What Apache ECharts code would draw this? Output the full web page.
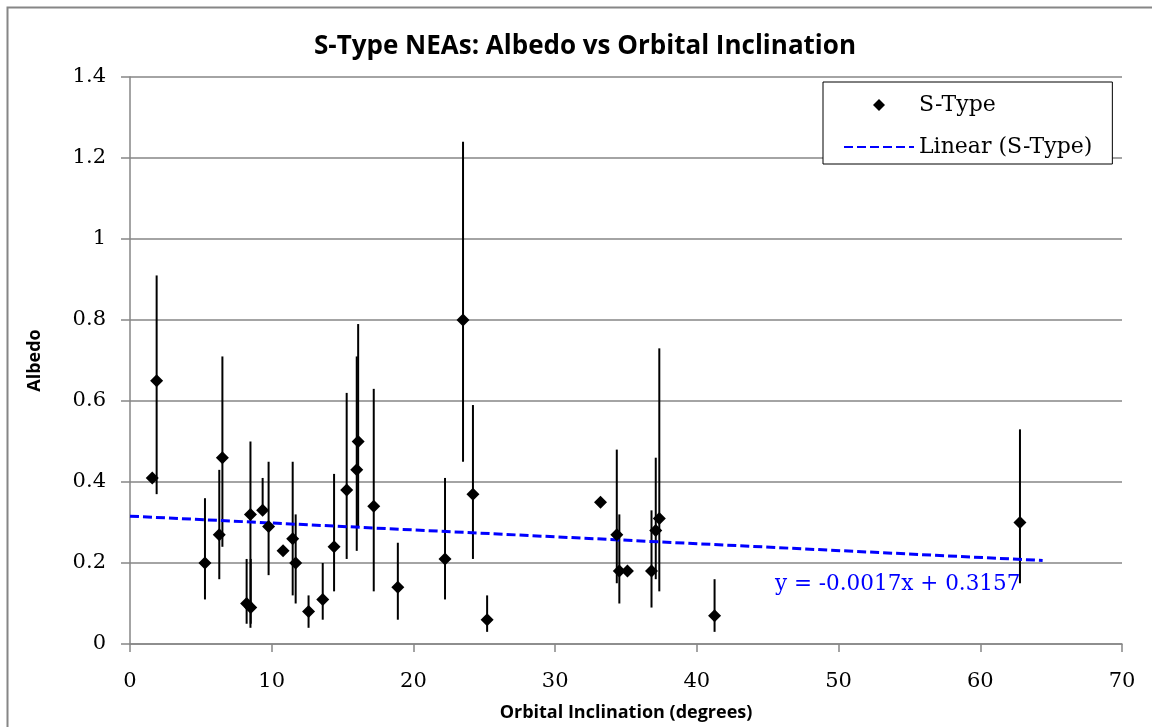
<!DOCTYPE html>
<html>
<head>
<meta charset="utf-8">
<script src="https://cdn.jsdelivr.net/npm/echarts@6/dist/echarts.min.js"></script>
<style>html,body{margin:0;padding:0;background:#fff;}#chart{width:1152px;height:727px;}</style>
</head>
<body>
<div id="chart"></div>
<script>
// Orbital inclination (degrees)
const inclination = [1.57, 1.88, 5.29, 6.30, 6.52, 8.23, 8.52, 8.50, 9.36, 9.78, 10.8, 11.48, 11.69, 12.6, 13.6, 14.4, 15.29, 16.0, 16.1, 17.2, 18.9, 22.23, 23.5, 24.2, 25.2, 33.2, 34.35, 34.53, 35.1, 36.8, 37.1, 37.35, 41.25, 62.8];
// Albedo
const albedo = [0.41, 0.65, 0.20, 0.27, 0.46, 0.10, 0.09, 0.32, 0.33, 0.29, 0.23, 0.26, 0.20, 0.08, 0.11, 0.24, 0.38, 0.43, 0.50, 0.34, 0.14, 0.21, 0.80, 0.37, 0.06, 0.35, 0.27, 0.18, 0.18, 0.18, 0.28, 0.31, 0.07, 0.30];
// Error bar lower / upper ends (null = no bar)
const albedoLow = [null, 0.37, 0.11, 0.16, 0.24, 0.05, 0.05, 0.04, 0.32, 0.17, null, 0.12, 0.10, 0.04, 0.06, 0.13, 0.21, 0.23, 0.29, 0.13, 0.06, 0.11, 0.45, 0.21, 0.03, null, 0.15, 0.10, null, 0.09, 0.16, 0.13, 0.03, 0.15];
const albedoHigh = [null, 0.91, 0.36, 0.43, 0.71, 0.21, 0.21, 0.50, 0.41, 0.45, null, 0.45, 0.32, 0.12, 0.20, 0.42, 0.62, 0.71, 0.79, 0.63, 0.25, 0.41, 1.24, 0.59, 0.12, null, 0.48, 0.32, null, 0.33, 0.46, 0.73, 0.16, 0.53];
// Linear trendline endpoints
const trendX = [0, 64.4];
const trendY = [0.3157, 0.2062];
const trendLabel = 'y = -0.0017x + 0.3157';
const xTicks = [0, 10, 20, 30, 40, 50, 60, 70];
const yTicks = [0, 0.2, 0.4, 0.6, 0.8, 1, 1.2, 1.4];

const points = inclination.map((x, i) => [x, albedo[i]]);
const bars = inclination.map((x, i) => [x, albedoLow[i], albedoHigh[i]]);
const trend = trendX.map((x, i) => [x, trendY[i]]);

const serif = 'DejaVu Serif';
const gridColor = '#868686';

const chart = echarts.init(document.getElementById('chart'));
chart.setOption({
  animation: false,
  backgroundColor: '#fff',
  title: {
    text: 'S-Type NEAs: Albedo vs Orbital Inclination',
    left: 580, top: 29, textAlign: 'center',
    textStyle: {fontFamily: 'Open Sans', fontWeight: 'bold', fontSize: 26, color: '#000'}
  },
  grid: {left: 130, right: 30, top: 77, bottom: 83},
  xAxis: {
    type: 'value', min: xTicks[0], max: xTicks[xTicks.length - 1], interval: 10,
    name: 'Orbital Inclination (degrees)', nameLocation: 'middle', nameGap: 60,
    nameTextStyle: {fontFamily: 'Open Sans', fontWeight: 'bold', fontSize: 18, color: '#000'},
    axisLine: {lineStyle: {color: gridColor, width: 1.5}},
    axisTick: {show: true, length: 8, lineStyle: {color: gridColor, width: 1.5}},
    axisLabel: {fontFamily: serif, fontSize: 21, color: '#000', margin: 27},
    splitLine: {show: false}
  },
  yAxis: {
    type: 'value', min: yTicks[0], max: yTicks[yTicks.length - 1], interval: 0.2,
    name: 'Albedo', nameLocation: 'middle', nameGap: 86,
    nameTextStyle: {fontFamily: 'Open Sans', fontWeight: 'bold', fontSize: 18, color: '#000'},
    axisLine: {show: true, lineStyle: {color: gridColor, width: 1.5}},
    axisTick: {show: true, length: 9, lineStyle: {color: gridColor, width: 1.5}},
    axisLabel: {fontFamily: serif, fontSize: 21, color: '#000', margin: 24},
    splitLine: {show: true, lineStyle: {color: gridColor, width: 1.5}}
  },
  legend: {
    orient: 'vertical', left: 823, top: 82,
    backgroundColor: '#fff', borderColor: '#000', borderWidth: 1,
    padding: [11, 20, 5, 20], itemGap: 18, itemWidth: 70, itemHeight: 12,
    textStyle: {fontFamily: serif, fontSize: 22, color: '#000', lineHeight: 24},
    data: [
      {name: 'S-Type', icon: 'path://M0,-1L1,0L0,1L-1,0Z'},
      {name: 'Linear (S-Type)', itemStyle: {opacity: 0}}
    ]
  },
  graphic: [
    {type: 'rect', left: 5, top: 5, z: -10, shape: {width: 1160, height: 740},
     style: {fill: 'none', stroke: gridColor, lineWidth: 2}},
    {type: 'text', left: 775, top: 573, z: 50,
     style: {text: trendLabel, fill: '#0000ff', font: '21.5px "DejaVu Serif"'}}
  ],
  series: [
    {
      type: 'custom', name: 'errbars', silent: true, z: 2,
      data: bars,
      renderItem: function (params, api) {
        const lo = api.value(1), hi = api.value(2);
        if (lo == null || hi == null || isNaN(lo) || isNaN(hi)) return null;
        const p1 = api.coord([api.value(0), lo]);
        const p2 = api.coord([api.value(0), hi]);
        return {type: 'line', shape: {x1: p1[0], y1: p1[1], x2: p2[0], y2: p2[1]},
                style: {stroke: '#000', lineWidth: 2}};
      },
      encode: {x: 0, y: [1, 2]}
    },
    {
      type: 'scatter', name: 'S-Type', z: 4,
      symbol: 'diamond', symbolSize: 13,
      itemStyle: {color: '#000', opacity: 1},
      data: points
    },
    {
      type: 'line', name: 'Linear (S-Type)', z: 3,
      showSymbol: false, symbol: 'none',
      lineStyle: {color: '#0000ff', width: 3, type: [9, 4]},
      itemStyle: {color: '#0000ff'},
      data: trend
    }
  ]
});
</script>
</body>
</html>
